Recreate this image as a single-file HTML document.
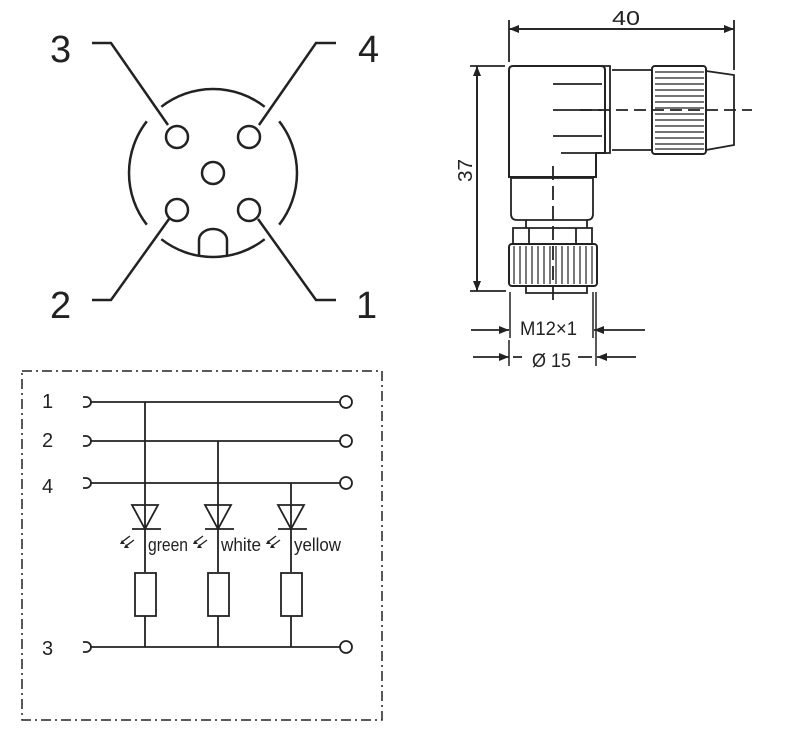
<!DOCTYPE html>
<html><head><meta charset="utf-8"><style>
html,body{margin:0;padding:0;background:#fff;}
svg{display:block;}
text{font-family:"Liberation Sans",sans-serif;fill:#222;}
</style></head><body>
<svg width="800" height="739" viewBox="0 0 800 739" xmlns="http://www.w3.org/2000/svg">
<defs>
<marker id="ar" markerWidth="10" markerHeight="8" refX="10" refY="4" orient="auto" markerUnits="userSpaceOnUse">
<path d="M0,0 L10,4 L0,8 z" fill="#222"/></marker>
</defs>
<g stroke="#222" fill="none" stroke-width="2.5">
<path d="M161.3,106.8 A84,84 0 0 1 264.7,106.8"/>
<path d="M279.2,121.3 A84,84 0 0 1 279.2,224.7"/>
<path d="M264.7,239.2 A84,84 0 0 1 161.3,239.2"/>
<path d="M146.8,224.7 A84,84 0 0 1 146.8,121.3"/>
<circle cx="177" cy="137" r="11"/>
<circle cx="249" cy="137" r="11"/>
<circle cx="213" cy="173" r="11"/>
<circle cx="177" cy="210" r="11"/>
<circle cx="249" cy="210" r="11"/>
<path d="M199,255 V240 A14,11 0 0 1 227,240 V255"/>
<path d="M92,43 H111 L168,125"/>
<path d="M336,43 H316 L259,125"/>
<path d="M92,300 H111 L169,219"/>
<path d="M336,300 H316 L258,219"/>
</g>
<g font-size="38">
<text x="50" y="62">3</text>
<text x="358" y="62">4</text>
<text x="50" y="318">2</text>
<text x="356" y="318">1</text>
</g>

<g stroke="#222" fill="none" stroke-width="1.8">
<path d="M509,20 V62"/><path d="M734,20 V70"/>
<path d="M470,66 H505"/><path d="M470,291 H506"/>
<path d="M513,66 H601 Q605,66 605,70 V153 H596 V177 H509 V70 Q509,66 513,66 Z" stroke-width="2"/>
<path d="M602,66 H610 V153 H602" />
<path d="M553,84 H602 M553,110 H602 M553,136 H602 M561,153 H596"/>
<path d="M612,70 H652 M612,150 H652"/>
<rect x="652" y="66" width="54" height="88" rx="3" stroke-width="2"/>
<path d="M655,72 H704 M655,78 H704 M655,84 H704 M655,90 H704 M655,96 H704 M655,102 H704 M655,108 H704 M655,114 H704 M655,120 H704 M655,126 H704 M655,132 H704 M655,138 H704 M655,144 H704 M655,149 H704" stroke-width="1.2"/>
<path d="M706,71 L734,75 V145 L706,150"/>
<path d="M580,110 H752" stroke-dasharray="12,6"/>
<path d="M511,178 H593 V214 Q593,220 587,220 H517 Q511,220 511,214 Z"/>
<path d="M526,220 V228 M587,220 V228"/>
<path d="M513,228 H592 V244 H513 Z"/>
<path d="M529,228 V244 M576,228 V244"/>
<rect x="509" y="244" width="88" height="42" rx="3" stroke-width="2"/>
<path d="M514,246 V284 M520,246 V284 M526,246 V284 M532,246 V284 M538,246 V284 M544,246 V284 M550,246 V284 M556,246 V284 M562,246 V284 M568,246 V284 M574,246 V284 M580,246 V284 M586,246 V284 M592,246 V284" stroke-width="1.2"/>
<path d="M526,286 V293 H587 V286"/>
<path d="M553,166 V305" stroke-dasharray="14,6"/>
<path d="M510,292 V338 M593,292 V338 M509,340 V366 M596,292 V366" stroke-width="1.5"/>
<path d="M471,330 H509" marker-end="url(#ar)"/>
<path d="M645,330 H594" marker-end="url(#ar)"/>
<path d="M473,357 H509" marker-end="url(#ar)"/>
<path d="M636,357 H597" marker-end="url(#ar)"/>
<path d="M513,357 H522 M578,357 H592"/>
<path d="M509,29 H734" marker-end="url(#ar)"/>
<path d="M734,29 H509" marker-end="url(#ar)"/>
<path d="M477,291 V66" marker-end="url(#ar)"/>
<path d="M477,66 V291" marker-end="url(#ar)"/>
</g>
<text x="612" y="25" font-size="20" textLength="28" lengthAdjust="spacingAndGlyphs">40</text>
<text transform="translate(472,182) rotate(-90)" font-size="20" textLength="23" lengthAdjust="spacingAndGlyphs">37</text>
<text x="520" y="335" font-size="19" textLength="57" lengthAdjust="spacingAndGlyphs">M12×1</text>
<text x="532" y="367" font-size="19" textLength="39" lengthAdjust="spacingAndGlyphs">Ø 15</text>

<rect x="22" y="371" width="360" height="349" fill="none" stroke="#222" stroke-width="1.5" stroke-dasharray="10,4,2,4"/>
<g stroke="#222" fill="none" stroke-width="1.8">
<path d="M83,397 H86 A5,5 0 0 1 86,407 H83 M90,402 H340"/>
<path d="M83,436 H86 A5,5 0 0 1 86,446 H83 M90,441 H340"/>
<path d="M83,478 H86 A5,5 0 0 1 86,488 H83 M90,483 H340"/>
<path d="M83,642 H86 A5,5 0 0 1 86,652 H83 M90,647 H340"/>
<circle cx="346" cy="402" r="6"/><circle cx="346" cy="441" r="6"/>
<circle cx="346" cy="483" r="6"/><circle cx="346" cy="647" r="6"/>
<path d="M145,402 V572 M145,616 V647"/>
<path d="M218,441 V572 M218,616 V647"/>
<path d="M291,483 V572 M291,616 V647"/>
<path d="M132,505 H158 L145,529 Z M132,529 H161"/>
<path d="M205,505 H231 L218,529 Z M205,529 H234"/>
<path d="M278,505 H304 L291,529 Z M278,529 H307"/>
<rect x="135" y="573" width="21" height="43"/>
<rect x="208" y="573" width="21" height="43"/>
<rect x="281" y="573" width="21" height="43"/>
<g stroke-width="1.3">
<path d="M130,536 L122,542 M134,540 L126,546"/>
<path d="M203,536 L195,542 M207,540 L199,546"/>
<path d="M276,536 L268,542 M280,540 L272,546"/>
</g>
</g>
<g fill="#222">
<path d="M120,544 l5,0 l-3,-4 z M124,548 l5,0 l-3,-4 z"/>
<path d="M193,544 l5,0 l-3,-4 z M197,548 l5,0 l-3,-4 z"/>
<path d="M266,544 l5,0 l-3,-4 z M270,548 l5,0 l-3,-4 z"/>
</g>
<g font-size="18">
<text x="148" y="551" textLength="40" lengthAdjust="spacingAndGlyphs">green</text>
<text x="221" y="551" textLength="40" lengthAdjust="spacingAndGlyphs">white</text>
<text x="294" y="551" textLength="47" lengthAdjust="spacingAndGlyphs">yellow</text>
</g>
<g font-size="20">
<text x="42" y="408">1</text>
<text x="42" y="447">2</text>
<text x="42" y="493">4</text>
<text x="42" y="655">3</text>
</g>
</svg>
</body></html>
